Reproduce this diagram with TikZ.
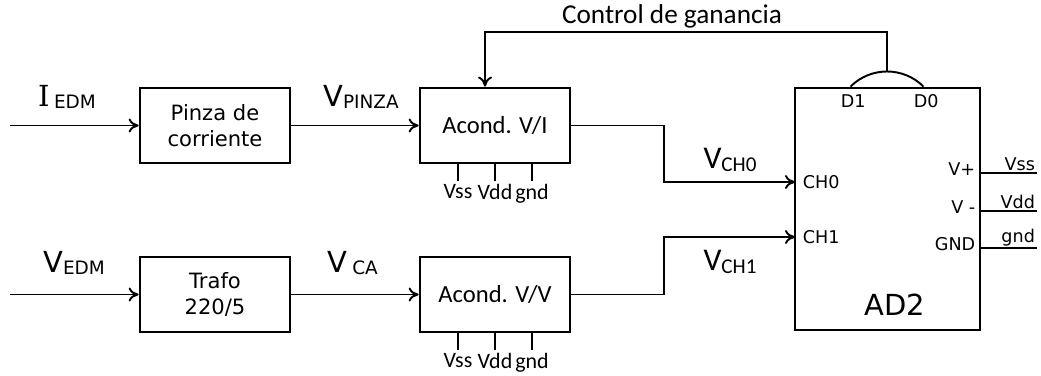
\documentclass[tikz,border=0pt]{standalone}
\usepackage{fontspec}
\setmainfont{DejaVu Sans}
\newfontfamily\calfont{Carlito}
\newfontfamily\serfont{DejaVu Serif}
\usetikzlibrary{arrows.meta,positioning}
\newcommand{\siglbl}[3][]{{\fontsize{16.5}{18}\selectfont #2}#1\raisebox{-1.5pt}{\fontsize{10.5}{12}\selectfont #3}}
\newcommand{\chlbl}[1]{{\calfont\fontsize{18}{20}\selectfont V}\raisebox{-1.5pt}{\calfont\fontsize{12}{14}\selectfont #1}}

\begin{document}
\begin{tikzpicture}[
  blk/.style={draw,line width=1.6pt,minimum width=3cm,minimum height=1.5cm,align=center,font=\fontsize{12}{15}\selectfont},
  acblk/.style={blk,font=\calfont\fontsize{14}{16}\selectfont},
  wire/.style={line width=1.1pt},
  sig/.style={wire,-{To[length=2mm,width=2.8mm]}},
  pinlbl/.style={font=\fontsize{10}{12}\selectfont},
  supply/.style={font=\calfont\fontsize{12.5}{14}\selectfont,inner sep=1pt}
]
  \useasboundingbox (0,0) rectangle (20.82,7.5);
  % blocks
  \node[blk] (pinza) at (4.3,4.99) {Pinza de\\corriente};
  \node[blk] (trafo) at (4.3,1.61) {Trafo\\220/5};
  \node[acblk] (acvi) at (9.9,4.99) {Acond. V/I};
  \node[acblk] (acvv) at (9.9,1.61) {Acond. V/V};
  \node[draw,line width=1.6pt,minimum width=3.7cm,minimum height=4.84cm] (ad2) at (17.75,3.32) {};
  \node[font=\fontsize{16.5}{19}\selectfont] (ad2lbl) at (17.9,1.4) {AD2};

  % inputs
  \coordinate (iin) at (0.2,4.99);
  \coordinate (vin) at (0.2,1.61);
  \draw[sig] (iin) -- (pinza);
  \draw[sig] (vin) -- (trafo);
  \draw[sig] (pinza) -- (acvi);
  \draw[sig] (trafo) -- (acvv);
  \node (iedm) at (1.34,5.56) {\siglbl[\hspace{2.5pt}]{\serfont I}{EDM}};
  \node (vedm) at (1.48,2.24) {\siglbl{V}{EDM}};
  \node (vpinza) at (7.22,5.56) {\siglbl{V}{PINZA}};
  \node (vca) at (7.05,2.24) {\siglbl[\hspace{3pt}]{V}{CA}};

  % supply pins of the conditioners
  \foreach \b in {acvi,acvv}
    \foreach \dx/\t in {-0.74/Vss,0/Vdd,0.74/gnd}
      \draw[wire] ([xshift=\dx cm]\b.south) -- ++(0,-0.34) node[supply,below] (\b-\t) {\t};

  % channels
  \coordinate (ch0in) at (15.9,3.86);
  \coordinate (ch1in) at (15.9,2.76);
  \draw[sig] (acvi.east) -- ++(1.86,0) |- (ch0in);
  \draw[sig] (acvv.east) -- ++(1.86,0) |- (ch1in);
  \node (vch0) at (14.6,4.3) {\chlbl{CH0}};
  \node (vch1) at (14.6,2.26) {\chlbl{CH1}};
  \node[pinlbl,right=1pt of ch0in] (ch0) {CH0};
  \node[pinlbl,right=1pt of ch1in] (ch1) {CH1};

  % power pins of AD2
  \foreach \y/\a/\b [count=\i] in {4.04/V+/Vss,3.28/V -/Vdd,2.54/GND/gnd} {
    \coordinate (out\i) at (20.74,\y);
    \draw[wire] (ad2.east |- out\i) -- (out\i);
    \node[pinlbl,anchor=south east,inner sep=1pt] (pw\i) at (out\i) {\b};
    \node[pinlbl,anchor=east] (pn\i) at ([yshift=0.08cm]ad2.east |- out\i) {\a};
  }

  % digital outputs and gain control
  \coordinate (d1p) at ([xshift=-0.74cm]ad2.north);
  \coordinate (d0p) at ([xshift=0.72cm]ad2.north);
  \node[pinlbl,below=1pt of d1p,xshift=1.5pt] (d1) {D1};
  \node[pinlbl,below=1pt of d0p,xshift=1.5pt] (d0) {D0};
  \draw[wire] (d1p) to[out=45,in=135] coordinate[pos=0.5] (dtop) (d0p);
  \coordinate (fb) at (17.74,6.86);
  \draw[sig] (dtop) -- (dtop |- fb) -| ([xshift=-2mm]acvi.north);
  \node[font=\calfont\fontsize{15.5}{17}\selectfont] (gain) at (13.44,7.17) {Control de ganancia};
\end{tikzpicture}
\end{document}
